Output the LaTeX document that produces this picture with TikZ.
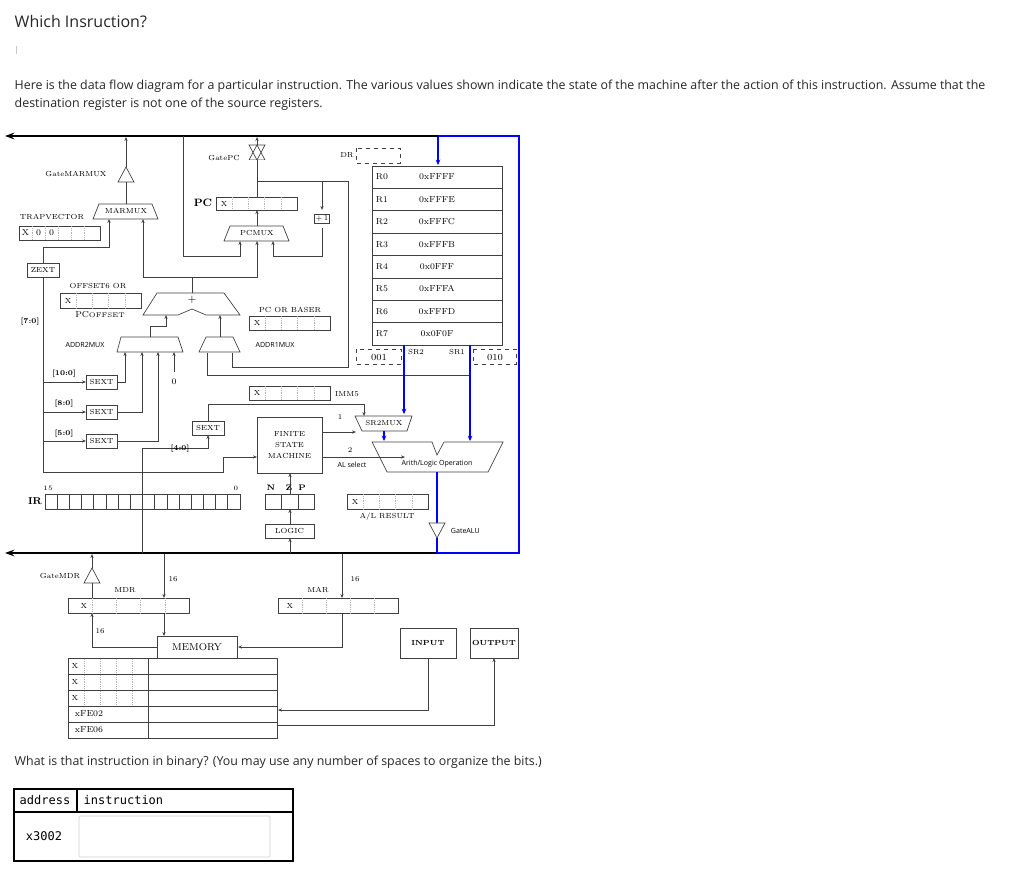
\documentclass[tikz,border=0pt]{standalone}
\usepackage{fontspec}
\newfontfamily\osans{Open Sans}
\newfontfamily\mono{DejaVu Sans Mono}
\usetikzlibrary{arrows.meta}
\newcommand\myreg[6]{% x1 y1 x2 y2 ncells-1 firsttext
  \draw[wire] (#1,#2) rectangle (#3,#4);
  \foreach \i in {1,...,#5}{\draw[gray!60,densely dotted] ({#1+\i*(#3-#1)/(#5+1)},#2) -- ({#1+\i*(#3-#1)/(#5+1)},#4);}
  \node[lbl] at ({#1+0.5*(#3-#1)/(#5+1)},{(#2+#4)/2}) {#6};}
\begin{document}
\begin{tikzpicture}[x=0.75pt,y=-0.75pt,
  wire/.style={draw=black!75,line width=0.5pt},
  arr/.style={wire,-{Stealth[length=3pt,width=2.4pt]}},
  blu/.style={draw=blue,line width=1.4pt,-{Stealth[length=4pt,width=3.5pt]}},
  lbl/.style={font=\fontsize{5.5}{6}\selectfont,inner sep=0.5pt},
  sl/.style={font=\osans\fontsize{5.3}{6}\selectfont,inner sep=0.5pt},
  box/.style={wire,draw,font=\fontsize{5.5}{6}\selectfont,inner sep=1pt}]
\useasboundingbox (0,0) rectangle (1024,881);
% header
\node[anchor=west,font=\osans\fontsize{12}{14}\selectfont,text=black!85] (title) at (10,22) {Which Insruction?};
\node[anchor=west,font=\osans\fontsize{6}{7}\selectfont,text=black!40] (bar) at (10,50) {|};
\node[anchor=west,font=\osans\fontsize{9.3}{13.5}\selectfont,text=black!85,align=left] (para) at (10,95) {Here is the data flow diagram for a particular instruction. The various values shown indicate the state of the machine after the action of this instruction. Assume that the\\destination register is not one of the source registers.};
\node[anchor=west,font=\osans\fontsize{9.3}{12}\selectfont,text=black!85] (q) at (10,762) {What is that instruction in binary? (You may use any number of spaces to organize the bits.)};
% answer table
\draw[line width=0.8pt] (14,789) rectangle (293,861);
\draw[line width=0.8pt] (14,812) -- (293,812) (77,789) -- (77,812);
\node[anchor=west,font=\mono\fontsize{9}{10}\selectfont] (ta) at (15,800) {address};
\node[anchor=west,font=\mono\fontsize{9}{10}\selectfont] (ti) at (79,800) {instruction};
\node[font=\mono\fontsize{9}{10}\selectfont] (tx) at (44,836) {x3002};
\draw[black!20,rounded corners=1pt] (79,816) rectangle (270,857);
% buses
\draw[line width=1.6pt,-{Stealth[length=7pt,width=5pt]}] (440,136) -- (5,136);
\draw[line width=1.6pt,-{Stealth[length=7pt,width=5pt]}] (440,553) -- (5,553);
\draw[blue,line width=1.6pt] (438,136) -- (519,136) -- (519,553) -- (438,553);
% register file
\draw[wire] (372,166) rectangle (502,345);
\foreach \r/\v [count=\k from 0] in {R0/0xFFFF,R1/0xFFFE,R2/0xFFFC,R3/0xFFFB,R4/0x0FFF,R5/0xFFFA,R6/0xFFFD,R7/0x0F0F}{
  \ifnum\k>0 \draw[wire] (372,{166+\k*22.375}) -- (502,{166+\k*22.375});\fi
  \node[lbl,font=\fontsize{6.5}{7}\selectfont] at (382,{177+\k*22.375}) {\r};
  \node[lbl,font=\fontsize{6.5}{7}\selectfont] at (437,{177+\k*22.375}) {\v};}
\draw[blu] (438,137) -- (438,165);
\draw[wire,dashed] (356,148) rectangle (400,163);
\node[lbl] at (347,155) {DR};
\draw[wire,dashed] (356,349) rectangle (401,364); \node[lbl,font=\fontsize{7}{8}\selectfont] at (379,357) {001};
\draw[wire,dashed] (473,349) rectangle (516,364); \node[lbl,font=\fontsize{7}{8}\selectfont] at (495,357) {010};
\node[lbl] at (416,352) {SR2}; \node[lbl] at (457,352) {SR1};
\draw[wire] (470,375) -- (207,375) -- (207,353);
\draw[blu] (404,345) -- (404,414);
\draw[blu] (470,345) -- (470,441);
% SR2MUX
\draw[wire,fill=white] (355,416) -- (412,416) -- (407,431) -- (362,431) -- cycle;
\node[lbl] at (384,423) {SR2MUX};
\draw[blu] (384,431) -- (384,441);
% ALU
\draw[wire] (372,442) -- (432,442) -- (437,455) -- (444,442) -- (503,442) -- (488,472) -- (387,472) -- cycle;
\node[sl] at (437,464) {Arith/Logic Operation};
\draw[blue,line width=1.4pt] (437,472) -- (437,523);
\draw[wire] (429,523) -- (445,523) -- (437,538) -- cycle;
\draw[blue,line width=1.4pt] (437,538) -- (437,553);
\node[sl,anchor=west] at (450,531) {GateALU};
% FSM
\node[box,minimum width=65*0.75pt,minimum height=56*0.75pt,align=center] (fsm) at (289.5,445) {FINITE\\[2pt]STATE\\[2pt]MACHINE};
\draw[arr] (322,432) -- (356,432); \node[lbl] at (340,417) {1};
\draw[arr] (322,457) -- (405,457); \node[lbl] at (350,450) {2};
\node[sl] at (352,465) {AL select};
% NZP, LOGIC
\draw[wire] (265,494) rectangle (314,509) (281,494) -- (281,509) (298,494) -- (298,509);
\node[lbl,font=\bfseries\fontsize{6}{7}\selectfont] at (271,488) {N};
\node[lbl,font=\bfseries\fontsize{6}{7}\selectfont] at (289,488) {Z};
\node[lbl,font=\bfseries\fontsize{6}{7}\selectfont] at (302,488) {P};
\node[box,minimum width=49*0.75pt,minimum height=14*0.75pt] (logic) at (289.5,531) {LOGIC};
\draw[arr] (290,553) -- (290,538);
\draw[arr] (290,524) -- (290,509);
\draw[arr] (290,494) -- (290,473);
% A/L result
\myreg{347}{494}{428}{509}{4}{X}
\node[lbl] at (387,517) {A/L RESULT};
% IMM5
\myreg{249}{386}{330}{400}{4}{X}
\node[lbl] at (347,394) {IMM5};
% PC
\myreg{216}{197}{297}{210}{4}{X}
\node[lbl,font=\bfseries\fontsize{8}{9}\selectfont] at (203,203) {PC};
\draw[wire] (249,145) -- (265,145) -- (257,160) -- cycle;
\draw[wire] (249,160) -- (265,160) -- (257,145) -- cycle;
\fill[white] (248,159.6) rectangle (266,161);
\draw[arr] (257,145) -- (257,137);
\draw[wire] (257,197) -- (257,160);
\node[lbl] at (224,158) {GatePC};
\draw[wire] (257,181) -- (348,181) -- (348,367) -- (232,367) -- (232,353);
\draw[arr] (322,181) -- (322,210);
\node[box] (inc) at (322,219) {+\,1};
\draw[arr] (322,228) -- (322,256) -- (273,256) -- (273,241);
\draw[wire] (230,226) -- (283,226) -- (289,241) -- (224,241) -- cycle;
\node[lbl] at (257,233) {PCMUX};
\draw[arr] (257,226) -- (257,210);
\draw[arr] (183,136) -- (183,256) -- (240,256) -- (240,241);
% adder
\draw[wire] (157,293) -- (224,293) -- (240,315) -- (206,315) -- (192,309) -- (178,315) -- (143,315) -- cycle;
\node[lbl,font=\fontsize{8}{9}\selectfont] at (192,300) {+};
\draw[wire] (192,293) -- (192,277);
\draw[arr] (143,277) -- (257,277) -- (257,241);
\draw[arr] (143,277) -- (143,219);
% MARMUX
\draw[wire] (99,204) -- (152,204) -- (158,219) -- (93,219) -- cycle;
\node[lbl] at (126,211) {MARMUX};
\draw[wire] (118,182) -- (134,182) -- (126,167) -- cycle;
\draw[wire] (126,204) -- (126,182);
\draw[arr] (126,167) -- (126,137);
\node[lbl] at (76,174) {GateMARMUX};
\node[lbl] at (52,217) {TRAPVECTOR};
\draw[wire] (19,226) rectangle (100,240);
\foreach \xx in {32,45,58,71,84}{\draw[gray!60,densely dotted] (\xx,226) -- (\xx,240);}
\node[lbl,font=\fontsize{6.5}{7}\selectfont] at (25.5,233) {X};
\node[lbl,font=\fontsize{6.5}{7}\selectfont] at (38.5,233) {0};
\node[lbl,font=\fontsize{6.5}{7}\selectfont] at (51.5,233) {0};
\node[box,minimum width=32*0.75pt,minimum height=14*0.75pt] (zext) at (43,270) {ZEXT};
\draw[arr] (43,263) -- (43,247) -- (109,247) -- (109,219);
% offsets
\node[lbl] at (98,286) {OFFSET6 OR};
\myreg{60}{293}{141}{308}{4}{X}
\node[lbl,font=\fontsize{6.5}{7}\selectfont] at (100,315) {PC\fontsize{5}{6}\selectfont OFFSET};
\node[lbl] at (290,310) {PC OR BASER};
\myreg{249}{316}{330}{330}{4}{X}
\node[lbl,font=\bfseries\fontsize{5.5}{6}\selectfont] at (30,322) {[7:0]};
% ADDR muxes
\draw[wire] (121,337) -- (178,337) -- (183,352) -- (117,352) -- cycle;
\node[sl] at (85,345) {ADDR2MUX};
\draw[wire] (206,337) -- (233,337) -- (240,352) -- (199,352) -- cycle;
\node[sl] at (275,345) {ADDR1MUX};
\draw[arr] (150,337) -- (150,326) -- (166,326) -- (166,315);
\draw[arr] (220,337) -- (220,315);
% SEXTs
\node[box,minimum width=31*0.75pt,minimum height=14*0.75pt] (s1) at (101.5,382) {SEXT};
\node[box,minimum width=31*0.75pt,minimum height=14*0.75pt] (s2) at (101.5,412) {SEXT};
\node[box,minimum width=31*0.75pt,minimum height=14*0.75pt] (s3) at (101.5,441) {SEXT};
\draw[arr] (43,277) -- (43,472) -- (223,472) -- (223,457) -- (257,457);
\draw[arr] (43,382) -- (86,382); \draw[arr] (43,412) -- (86,412); \draw[arr] (43,441) -- (86,441);
\node[lbl,font=\bfseries\fontsize{5.5}{6}\selectfont] at (64,374) {[10:0]};
\node[lbl,font=\bfseries\fontsize{5.5}{6}\selectfont] at (64,404) {[8:0]};
\node[lbl,font=\bfseries\fontsize{5.5}{6}\selectfont] at (64,434) {[5:0]};
\draw[arr] (117,382) -- (125,382) -- (125,352);
\draw[arr] (117,412) -- (142,412) -- (142,352);
\draw[arr] (117,441) -- (158,441) -- (158,352);
\draw[arr] (174,372) -- (174,352); \node[lbl,font=\fontsize{6.5}{7}\selectfont] at (174,382) {0};
\node[box,minimum width=32*0.75pt,minimum height=14*0.75pt] (s4) at (208,428) {SEXT};
\draw[arr] (142,553) -- (142,448) -- (208,448) -- (208,435);
\node[lbl,font=\bfseries\fontsize{5.5}{6}\selectfont] at (180,449) {[4:0]};
\draw[arr] (208,421) -- (208,404) -- (364,404) -- (364,416);
% IR
\draw[wire] (45,494) rectangle (240,509);
\foreach \i in {1,...,15}{\draw[wire] ({45+\i*195/16},494) -- ({45+\i*195/16},509);}
\node[lbl,font=\bfseries\fontsize{7.5}{8}\selectfont] at (35,501) {IR};
\node[lbl,font=\fontsize{5}{6}\selectfont] at (48,488) {15};
\node[lbl,font=\fontsize{5}{6}\selectfont] at (236,488) {0};
% MDR / MAR
\draw[wire] (84,583) -- (100,583) -- (92,568) -- cycle;
\draw[arr] (92,568) -- (92,554);
\draw[wire] (92,598) -- (92,583);
\node[lbl] at (60,576) {GateMDR};
\myreg{68}{598}{189}{613}{4}{}
\node[lbl] at (84,605.5) {X};
\node[lbl] at (125,590) {MDR};
\draw[arr] (164,554) -- (164,598); \node[lbl] at (173,579) {16};
\myreg{278}{598}{398}{613}{4}{X}
\node[lbl] at (318,590) {MAR};
\draw[arr] (342,554) -- (342,598); \node[lbl] at (355,579) {16};
\node[box,minimum width=80*0.75pt,minimum height=22*0.75pt,font=\fontsize{7.5}{8}\selectfont] (mem) at (197,647) {MEMORY};
\draw[arr] (164,613) -- (164,636);
\draw[arr] (157,647) -- (92,647) -- (92,613); \node[lbl] at (100,631) {16};
\draw[arr] (342,613) -- (342,647) -- (238,647);
% memory table
\draw[wire] (68,658) rectangle (277,738);
\foreach \k in {1,...,4}{\draw[wire] (68,{658+16*\k}) -- (277,{658+16*\k});}
\draw[wire] (148,658) -- (148,738);
\foreach \k in {0,1,2}{\foreach \xx in {84,100,116,132}{\draw[gray!60,densely dotted] (\xx,{659+16*\k}) -- (\xx,{673+16*\k});}
  \node[lbl] at (75,{666+16*\k}) {X};}
\node[lbl,anchor=west,font=\fontsize{6.5}{7}\selectfont] at (74,714) {xFE02};
\node[lbl,anchor=west,font=\fontsize{6.5}{7}\selectfont] at (74,730) {xFE06};
\node[box,minimum width=56*0.75pt,minimum height=30*0.75pt,font=\bfseries\fontsize{5.5}{6}\selectfont] (inp) at (428,643) {INPUT};
\node[box,minimum width=48*0.75pt,minimum height=30*0.75pt,font=\bfseries\fontsize{5.5}{6}\selectfont] (outp) at (494,643) {OUTPUT};
\draw[arr] (428,658) -- (428,710) -- (278,710);
\draw[arr] (277,725) -- (494,725) -- (494,658);
\end{tikzpicture}
\end{document}
